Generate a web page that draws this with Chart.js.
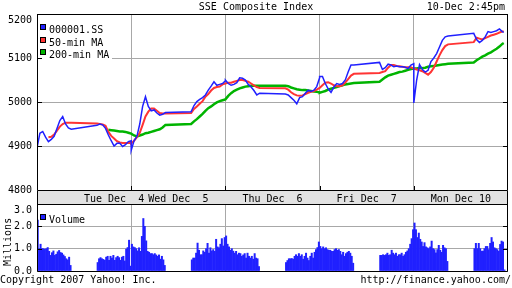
<!DOCTYPE html>
<html>
<head>
<meta charset="utf-8">
<title>SSE Composite Index</title>
<script src="https://cdn.jsdelivr.net/npm/chart.js@4.4.1/dist/chart.umd.min.js"></script>
<style>
  html, body { margin: 0; padding: 0; background: #fff; }
  #wrap { position: relative; width: 512px; height: 288px; overflow: hidden;
          font: 10px "DejaVu Sans Mono", monospace; color: #000; }
  .t { position: absolute; white-space: pre; line-height: 12px; }
  canvas { position: absolute; left: 0; }
</style>
</head>
<body>
<div id="wrap">
  <canvas id="priceChart" width="512" height="200" style="top:0"></canvas>
  <canvas id="volChart" width="512" height="90" style="top:191px"></canvas>
  <div class="t" style="left:0;width:512px;text-align:center;top:1px">SSE Composite Index</div>
  <div class="t" style="right:7px;top:1px">10-Dec 2:45pm</div>
  <div class="t" style="left:-16px;top:236px;width:48px;transform:rotate(-90deg)">Millions</div>
  <div class="t" style="left:0;top:274px">Copyright 2007 Yahoo! Inc.</div>
  <div class="t" style="right:1px;top:274px">http://finance.yahoo.com/</div>
</div>
<script>
// trading days, 9:30-11:30 + 13:00-15:00, lunch kept on the axis (330 min per day)
const DAY = 330;
const days = ['Tue Dec  4', 'Wed Dec  5', 'Thu Dec  6', 'Fri Dec  7', 'Mon Dec 10'];
const dayLabelAt = [270, 495, 825, 1155, 1485];

// minutes after 9:30 for the line samples
const dayMins = [0, 10, 20, 30, 40, 50, 60, 70, 80, 90, 100, 110, 120,
                 210, 220, 230, 240, 250, 260, 270, 280, 290, 300, 310, 320, 330];
const lastDayMins = [0, 10, 20, 30, 40, 50, 60, 70, 80, 90, 100, 110, 120,
                     210, 220, 230, 240, 250, 260, 270, 280, 290, 300, 310, 315];

const price = [
  4895, 4929, 4933, 4920, 4910, 4915, 4922, 4940, 4958, 4967, 4950, 4941, 4938,
  4947, 4950, 4948, 4940, 4925, 4912, 4900, 4906, 4906, 4899, 4903, 4910, 4912,
  4890, 4912, 4922, 4950, 4990, 5012, 4990, 4980, 4982, 4975, 4970, 4972, 4976,
  4978, 4992, 5001, 5006, 5010, 5016, 5027, 5036, 5046, 5038, 5040, 5042, 5048,
  5050, 5042, 5038, 5040, 5044, 5055, 5054, 5050, 5040, 5034, 5026, 5016, 5020,
  5018, 5016, 5010, 5004, 4996, 5010, 5012, 5020, 5027, 5024, 5027, 5035, 5055,
  5058, 5058, 5042, 5030, 5022, 5034, 5042, 5040, 5042, 5050, 5068, 5084, 5084,
  5090, 5074, 5078, 5086, 5084, 5080, 5082, 5080, 5080, 5079, 5076, 5084, 5087,
  4998, 5050, 5085, 5074, 5068, 5072, 5092, 5100, 5110, 5125, 5140, 5148, 5150,
  5156, 5142, 5135, 5140, 5148, 5160, 5158, 5160, 5162, 5166, 5160, 5158
];
const ma50 = [
  null, null, null, null, 4920, 4921, 4926, 4935, 4944, 4950, 4953, 4953, 4953,
  4951, 4950, 4949, 4946, 4932, 4923, 4917, 4911, 4908, 4907, 4907, 4907, 4907,
  4906, 4912, 4920, 4930, 4948, 4967, 4978, 4985, 4985, 4980, 4975, 4974, 4974,
  4975, 4984, 4990, 4996, 5002, 5012, 5018, 5026, 5032, 5034, 5035, 5040, 5042,
  5042, 5044, 5044, 5046, 5048, 5050, 5050, 5048, 5046, 5042, 5038, 5034, 5032,
  5031, 5028, 5022, 5018, 5015, 5014, 5015, 5018, 5021, 5023, 5025, 5028, 5032,
  5032, 5038, 5044, 5045, 5042, 5038, 5036, 5036, 5038, 5044, 5052, 5060, 5064,
  5066, 5068, 5070, 5078, 5084, 5084, 5082, 5081, 5080, 5079, 5079, 5079, 5076,
  5076, 5074, 5072, 5070, 5066, 5062, 5068, 5078, 5092, 5106, 5118, 5127, 5131,
  5136, 5146, 5144, 5142, 5145, 5148, 5151, 5153, 5155, 5158, 5160, 5160
];
const ma200 = [
  null, null, null, null, null, null, null, null, null, null, null, null, null,
  null, null, null, null, 4937, 4936, 4935, 4934, 4933, 4933, 4932, 4930, 4928,
  4928, 4924, 4922, 4924, 4926, 4929, 4930, 4932, 4934, 4936, 4938, 4942, 4948,
  4950, 4956, 4961, 4967, 4973, 4980, 4986, 4990, 4995, 4999, 5002, 5004, 5006,
  5006, 5014, 5020, 5025, 5028, 5031, 5033, 5035, 5036, 5037, 5037, 5037, 5037,
  5037, 5036, 5033, 5031, 5029, 5028, 5027, 5027, 5026, 5025, 5024, 5023, 5022,
  5021, 5023, 5025, 5028, 5030, 5032, 5034, 5036, 5038, 5040, 5041, 5042, 5043,
  5046, 5051, 5056, 5060, 5062, 5064, 5066, 5068, 5069, 5071, 5073, 5075, 5076,
  5076, 5076, 5077, 5077, 5078, 5080, 5081, 5082, 5083, 5084, 5085, 5086, 5087,
  5090, 5095, 5099, 5103, 5106, 5110, 5113, 5117, 5121, 5126, 5132, 5134
];

// 5-minute volume, millions (24 bars morning, then afternoon)
const volTue = [2.28, 1.0, 1.2, 1.0, 1.0, 0.97, 1.0, 1.05, 0.88, 0.7, 0.82, 0.9, 0.7, 0.75, 0.86, 0.92, 0.83, 0.8, 0.72, 0.65, 0.55, 0.5, 0.62, 0.25,
                0.38, 0.55, 0.6, 0.55, 0.52, 0.48, 0.62, 0.66, 0.48, 0.66, 0.58, 0.7, 0.48, 0.6, 0.66, 0.6, 0.48, 0.62, 0.66, 0.45, 0.98, 1.05, 1.38, 0.22];
const volWed = [1.2, 1.08, 1.05, 1.0, 0.9, 1.04, 0.88, 1.55, 2.35, 2.0, 1.35, 0.88, 0.84, 0.78, 0.78, 0.73, 0.78, 0.72, 0.66, 0.72, 0.53, 0.66, 0.5, 0.25,
                0.5, 0.58, 0.58, 0.8, 1.25, 0.93, 0.73, 0.73, 0.9, 0.84, 1.0, 1.24, 0.8, 1.04, 0.9, 0.96, 0.88, 1.42, 1.08, 1.04, 1.2, 1.45, 1.12, 1.5];
const volThu = [1.57, 1.2, 1.08, 0.93, 1.0, 0.89, 0.8, 0.88, 0.73, 0.8, 0.78, 0.66, 0.72, 0.78, 0.58, 0.8, 0.66, 0.58, 0.66, 0.53, 0.78, 0.58, 0.55, 0.2,
                0.38, 0.47, 0.55, 0.55, 0.56, 0.53, 0.66, 0.73, 0.66, 0.78, 0.66, 0.73, 0.53, 0.66, 0.8, 0.58, 0.47, 0.66, 0.8, 0.58, 0.84, 0.96, 1.05, 1.3];
const volFri = [1.1, 1.0, 1.08, 1.0, 1.04, 0.96, 0.93, 0.93, 0.88, 0.88, 0.96, 1.0, 0.93, 0.96, 0.88, 0.73, 0.84, 0.66, 0.78, 0.84, 0.88, 0.8, 0.66, 0.35,
                0.7, 0.7, 0.73, 0.7, 0.73, 0.8, 0.7, 0.73, 0.93, 0.8, 0.73, 0.8, 0.66, 0.73, 0.73, 0.8, 0.66, 0.73, 0.84, 0.9, 1.0, 1.2, 1.45, 1.85];
const volMon = [2.15, 1.85, 1.5, 1.7, 1.42, 1.3, 1.1, 1.27, 1.08, 1.04, 1.0, 1.08, 1.34, 1.0, 0.96, 0.81, 0.96, 1.15, 0.93, 0.84, 1.15, 1.04, 1.0, 0.43,
                1.0, 1.24, 1.0, 1.24, 1.0, 0.89, 0.89, 1.0, 1.1, 1.1, 0.96, 1.24, 1.5, 1.3, 1.04, 1.0, 0.96, 0.89, 1.19, 1.34, 1.3, 0.05];

const BLUE = '#2020ff', RED = '#ff3434', GREEN = '#00b400';
const GRID = '#a8a8a8', BAND = '#e2e2e2';
const FONT = { family: 'DejaVu Sans Mono', size: 10 };
const CSSFONT = '10px "DejaVu Sans Mono"';

const dayEdges = days.slice(1).map((d, i) => (i + 1) * DAY);

const times = [];
days.forEach((d, i) => {
  const mins = i === days.length - 1 ? lastDayMins : dayMins;
  mins.forEach(m => times.push(i * DAY + m));
});
const pts = arr => arr.map((v, i) => ({ x: times[i], y: v }));

const volPts = [];
[volTue, volWed, volThu, volFri, volMon].forEach((arr, d) => {
  arr.forEach((v, j) => {
    const m = j < 24 ? j * 5 : 210 + (j - 24) * 5;
    volPts.push({ x: d * DAY + m + 2.5, y: v });
  });
});

// keep the plot area where it is: no extra room for overhanging labels
function fixWidth(s) { s.width = 37; s.paddingTop = 0; s.paddingBottom = 0; }
function fixHeight(h) {
  return s => { s.height = h; s.paddingLeft = 0; s.paddingRight = 0; };
}

// black box round the plot, short ticks pointing inwards
const frame = {
  id: 'frame',
  afterDatasetsDraw(chart, args, o) {
    const { ctx, chartArea: a, scales } = chart;
    ctx.save();
    ctx.strokeStyle = '#000';
    ctx.lineWidth = 1;
    ctx.beginPath();
    ctx.moveTo(a.left + 0.5, a.top - (o.up || 0));
    ctx.lineTo(a.left + 0.5, a.bottom + 0.5);
    ctx.lineTo(a.right - 0.5, a.bottom + 0.5);
    ctx.lineTo(a.right - 0.5, a.top - (o.up || 0));
    ctx.moveTo(a.left, a.top + 0.5);
    ctx.lineTo(a.right, a.top + 0.5);
    const y = scales.y;
    y.ticks.forEach(t => {
      if (t.value <= y.min || t.value >= y.max) return;
      const py = Math.round(y.getPixelForValue(t.value)) + 0.5;
      ctx.moveTo(a.left, py); ctx.lineTo(a.left + 5, py);
      ctx.moveTo(a.right - 5, py); ctx.lineTo(a.right, py);
    });
    if (o.dayTicks) {
      dayEdges.forEach(v => {
        const px = Math.round(scales.x.getPixelForValue(v)) + 0.5;
        ctx.moveTo(px, a.bottom); ctx.lineTo(px, a.bottom - 4);
      });
    }
    ctx.stroke();
    ctx.restore();
  }
};

// legend in the top left corner of the plot
const keyBox = {
  id: 'keyBox',
  beforeDatasetsDraw(chart, args, o) {
    const { ctx, chartArea: a } = chart;
    ctx.save();
    if (o.width) {
      ctx.fillStyle = '#fff';
      ctx.fillRect(a.left + 1, a.top + 1, o.width, o.height);
    }
    ctx.font = CSSFONT;
    ctx.textBaseline = 'alphabetic';
    chart.data.datasets.forEach((ds, i) => {
      const top = Math.round(a.top + o.first + i * o.step);
      ctx.fillStyle = ds.backgroundColor;
      ctx.fillRect(a.left + 3, top, 6, 6);
      ctx.strokeStyle = '#000';
      ctx.strokeRect(a.left + 3.5, top + 0.5, 5, 5);
      ctx.fillStyle = '#000';
      ctx.fillText(ds.label, a.left + 12, top + 9);
    });
    ctx.restore();
  }
};

// grey strip holding the day names
const band = {
  id: 'band',
  beforeDraw(chart) {
    const { ctx, chartArea: a } = chart;
    ctx.save();
    ctx.fillStyle = BAND;
    ctx.fillRect(a.left, 0, a.right - a.left, a.top);
    ctx.restore();
  }
};

new Chart(document.getElementById('priceChart'), {
  type: 'line',
  data: {
    datasets: [
      { label: '000001.SS', data: pts(price), borderColor: BLUE, backgroundColor: BLUE, borderWidth: 1.5 },
      { label: '50-min MA', data: pts(ma50), borderColor: RED, backgroundColor: RED, borderWidth: 2 },
      { label: '200-min MA', data: pts(ma200), borderColor: GREEN, backgroundColor: GREEN, borderWidth: 2.5 }
    ]
  },
  options: {
    responsive: false,
    animation: false,
    layout: { padding: { top: 14, right: 4, bottom: 10, left: 0 } },
    elements: { point: { radius: 0 }, line: { tension: 0 } },
    plugins: {
      legend: { display: false },
      tooltip: { enabled: false },
      keyBox: { width: 74, height: 47, first: 10, step: 12.6 },
      frame: { dayTicks: true }
    },
    scales: {
      x: {
        type: 'linear', min: 0, max: days.length * DAY,
        afterBuildTicks: s => { s.ticks = dayEdges.map(v => ({ value: v })); },
        ticks: { display: false },
        grid: { color: GRID, drawTicks: false },
        border: { display: false },
        afterFit: fixHeight(0)
      },
      y: {
        min: 4800, max: 5200,
        ticks: {
          stepSize: 100, font: FONT, color: '#000', padding: 5, autoSkip: false,
          callback: v => v === 5200 ? ['', String(v)] : String(v)
        },
        grid: { color: GRID, drawTicks: false },
        border: { display: false },
        afterFit: fixWidth
      }
    }
  },
  plugins: [keyBox, frame]
});

new Chart(document.getElementById('volChart'), {
  type: 'bar',
  data: {
    datasets: [
      { label: 'Volume', data: volPts, backgroundColor: BLUE, borderWidth: 0, barThickness: 1.35 }
    ]
  },
  options: {
    responsive: false,
    animation: false,
    layout: { padding: { top: 0, right: 4, bottom: 10, left: 0 } },
    plugins: {
      legend: { display: false },
      tooltip: { enabled: false },
      keyBox: { width: 0, height: 0, first: 10, step: 12 },
      frame: { up: 13 }
    },
    scales: {
      x: {
        type: 'linear', min: 0, max: days.length * DAY, offset: false,
        afterBuildTicks: s => { s.ticks = dayEdges.map(v => ({ value: v })); },
        ticks: { display: false },
        grid: { color: GRID, drawTicks: false, offset: false },
        border: { display: false },
        afterFit: fixHeight(0)
      },
      band: {
        type: 'linear', position: 'top', min: 0, max: days.length * DAY, offset: false,
        afterBuildTicks: s => { s.ticks = dayLabelAt.map(v => ({ value: v })); },
        ticks: {
          font: FONT, color: '#000', padding: -1, autoSkip: false, maxRotation: 0, minRotation: 0,
          callback: (v, i) => days[i]
        },
        grid: { display: false, drawTicks: false },
        border: { display: false },
        afterFit: fixHeight(13)
      },
      y: {
        min: 0, max: 3,
        ticks: {
          stepSize: 1, font: FONT, color: '#000', padding: 5, autoSkip: false,
          callback: v => v === 3 ? ['', v.toFixed(1)] : v.toFixed(1)
        },
        grid: { color: GRID, drawTicks: false },
        border: { display: false },
        afterFit: fixWidth
      }
    }
  },
  plugins: [band, keyBox, frame]
});
</script>
</body>
</html>
